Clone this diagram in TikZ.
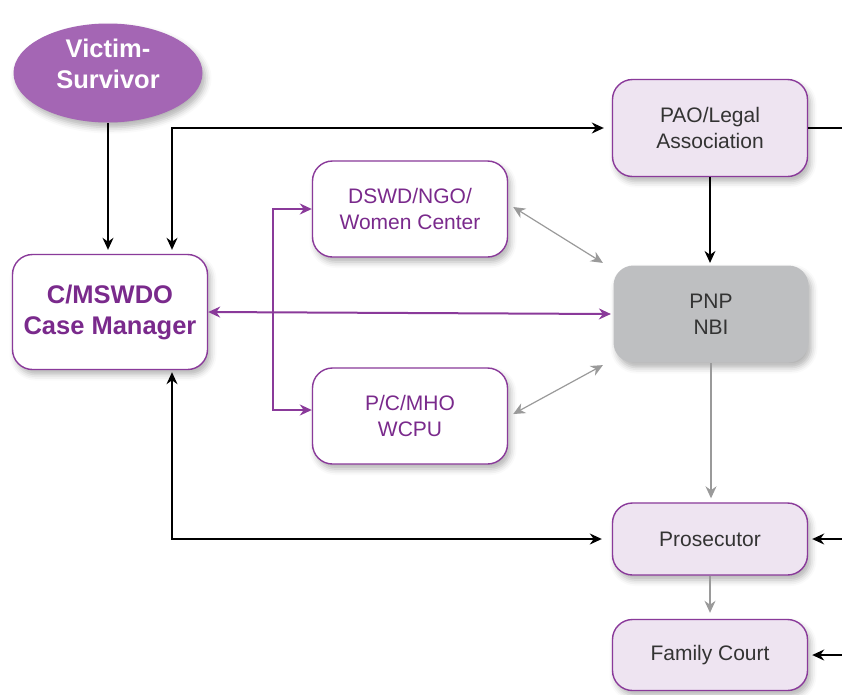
\documentclass[tikz,border=0pt]{standalone}
\usepackage{fontspec}
\setmainfont{Liberation Sans}
\usetikzlibrary{arrows.meta,shapes.geometric,shadows.blur}
\definecolor{vicfill}{HTML}{A466B4}
\definecolor{edgepurple}{HTML}{8A3A9A}
\definecolor{textpurple}{HTML}{7A2A8C}
\definecolor{lavfill}{HTML}{EEE4F1}
\definecolor{pnpfill}{HTML}{BEBFC1}
\definecolor{textgray}{HTML}{333333}
\definecolor{arrowgray}{HTML}{9A9A9A}

\begin{document}
\begin{tikzpicture}[x=1pt,y=-1pt,>={Stealth[length=12pt,width=11pt]},line width=1.2pt,
    soft shadow/.style={blur shadow={shadow xshift=3pt,shadow yshift=-5pt,shadow blur radius=6pt,shadow opacity=30}},
    box/.style={soft shadow,rounded corners=20pt,minimum width=195pt,minimum height=96pt,align=center,font=\fontsize{21}{26}\selectfont},
    white box/.style={box,draw=edgepurple,line width=1.4pt,fill=white,text=textpurple},
    lav box/.style={box,draw=edgepurple,line width=1.4pt,fill=lavfill,text=textgray},
    gray box/.style={box,fill=pnpfill,text=textgray},
    purple line/.style={draw=edgepurple,line width=2pt},
    gray line/.style={draw=arrowgray,line width=1.2pt}]
    \useasboundingbox (0,0) rectangle (842,694);

    % nodes
    \node[ellipse,soft shadow,fill=vicfill,text=white,inner sep=0pt,minimum width=189pt,minimum height=99pt,align=center,font=\fontsize{25.5}{31}\selectfont\bfseries] (victim) at (108,73) {Victim-\\Survivor\\[-12pt]};
    \node[white box,minimum height=115pt,font=\fontsize{25.5}{31}\selectfont\bfseries] (cm) at (110,312) {C/MSWDO\\Case Manager};
    \node[white box] (dswd) at (410,209) {DSWD/NGO/\\Women Center};
    \node[white box] (wcpu) at (410,416) {P/C/MHO\\WCPU};
    \node[lav box,minimum height=97pt] (pao) at (710,128) {PAO/Legal\\Association};
    \node[gray box,minimum height=97pt] (pnp) at (711,314) {PNP\\NBI};
    \node[lav box,minimum height=72pt] (pros) at (710,539) {Prosecutor};
    \node[lav box,minimum height=71pt] (court) at (710,655) {Family Court};

    % helper points
    \coordinate (turn) at (172,128);
    \coordinate (fork) at (273,314);
    \coordinate (pao out) at (842,128);
    \coordinate (pros in) at (842,539);
    \coordinate (court in) at (842,655);

    % black connectors
    \draw[->,shorten >=4pt] (victim.south) -- (victim.south |- cm.north);
    \draw[<->,shorten <=4pt,shorten >=8pt] (cm.north -| turn) -- (turn) -- (pao.west);
    \draw (pao.east) -- (pao out);
    \draw[->,shorten >=2pt] (pao.south) -- (pao.south |- pnp.north);
    \draw[<->,shorten <=2pt,shorten >=10pt] (cm.south -| turn) |- (pros.west);
    \draw[->,shorten >=4pt] (pros in) -- (pros.east);
    \draw[->,shorten >=4pt] (court in) -- (court.east);

    % purple connectors
    \draw[purple line,<->] (cm.east) -- ([xshift=-2pt]pnp.west);
    \draw[purple line,->] (fork) |- (dswd.west);
    \draw[purple line,->] (fork) |- ([yshift=6pt]wcpu.west);

    % gray connectors
    \draw[gray line,<->] ([xshift=5pt,yshift=2pt]dswd.east) -- ([xshift=-10pt,yshift=2pt]pnp.north west);
    \draw[gray line,<->] ([xshift=5pt,yshift=2pt]wcpu.east) -- ([xshift=-10pt,yshift=-2pt]pnp.south west);
    \draw[gray line,->,shorten >=4pt] (pnp.south) -- (pnp.south |- pros.north);
    \draw[gray line,->,shorten >=6pt] (pros.south) -- (court.north);
\end{tikzpicture}
\end{document}
